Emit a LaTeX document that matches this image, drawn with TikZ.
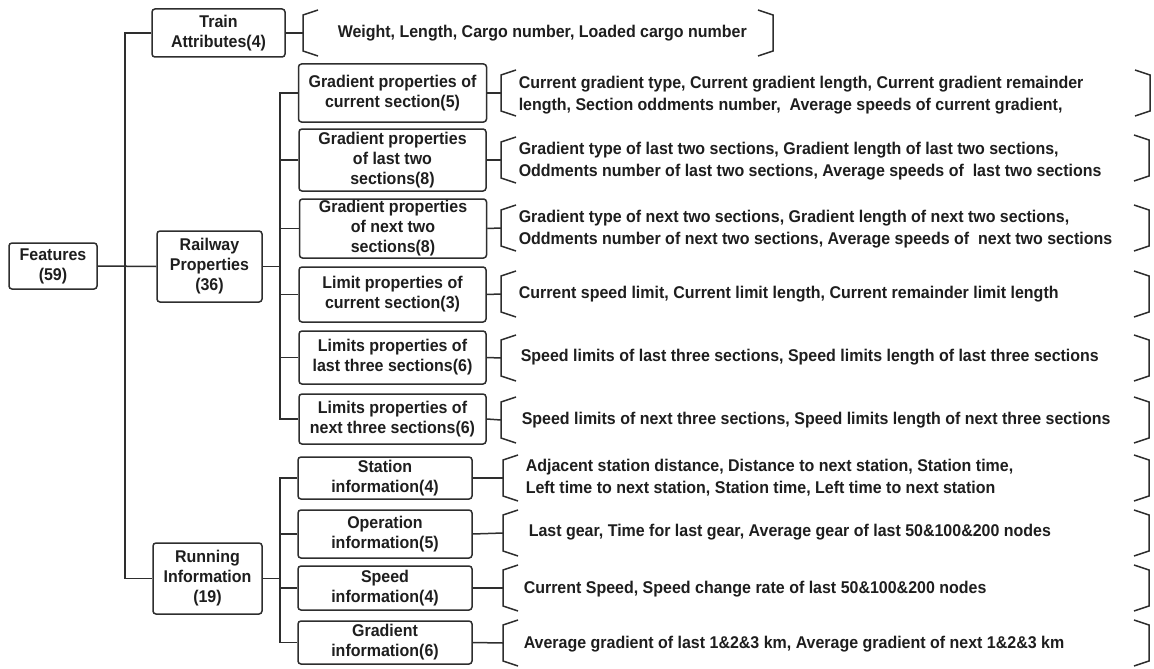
\documentclass[tikz,border=0pt]{standalone}
\usepackage{fontspec}
\setmainfont{Liberation Sans}
\newfontfamily\narrowsans[FakeStretch=0.94]{Liberation Sans}
\definecolor{ink}{HTML}{2E2E2E}
\definecolor{txt}{HTML}{1E1E1E}
\begin{document}
\begin{tikzpicture}[x=1pt,y=-1pt,
  line width=1.5pt, draw=ink,
  box/.style={draw=ink, rounded corners=3pt, inner sep=0pt, align=center,
    text=txt, font=\narrowsans\fontsize{17}{20}\selectfont\bfseries},
  desc/.style={anchor=west, inner sep=0pt, align=left, text=txt,
    font=\narrowsans\fontsize{17}{22}\selectfont\bfseries},
  lbr/.pic={\draw[ink, line width=1.5pt] (15,-23) -- (0,-18) -- (0,18) -- (15,23);},
  rbr/.pic={\draw[ink, line width=1.5pt] (-15,-23) -- (0,-18) -- (0,18) -- (-15,23);}
]
\useasboundingbox[fill=white] (0,0) rectangle (1154,669);

% level 0/1 boxes
\node[box, minimum width=88pt, minimum height=46pt] (feat) at (53,266) {Features\\(59)};
\node[box, minimum width=133pt, minimum height=48pt] (train) at (218.5,33) {Train\\Attributes(4)};
\node[box, minimum width=105pt, minimum height=71pt] (rail) at (209.5,266.5) {Railway\\Properties\\(36)};
\node[box, minimum width=109pt, minimum height=71pt] (run) at (207.5,578.5) {Running\\Information\\(19)};

% railway children
\node[box, minimum width=188pt, minimum height=58pt] (g1) at (392.5,93) {Gradient properties of\\current section(5)};
\node[box, minimum width=187pt, minimum height=62pt] (g2) at (392.5,160) {Gradient properties\\of last two\\sections(8)};
\node[box, minimum width=187pt, minimum height=59pt] (g3) at (393,228.5) {Gradient properties\\of next two\\sections(8)};
\node[box, minimum width=187pt, minimum height=55pt] (l1) at (392.5,294.5) {Limit properties of\\current section(3)};
\node[box, minimum width=187pt, minimum height=53pt] (l2) at (392.5,357.5) {Limits properties of\\last three sections(6)};
\node[box, minimum width=187pt, minimum height=50pt] (l3) at (392.5,419) {Limits properties of\\next three sections(6)};

% running children
\node[box, minimum width=174pt, minimum height=42pt] (s1) at (385,478) {Station\\information(4)};
\node[box, minimum width=174pt, minimum height=48pt] (s2) at (385,534) {Operation\\information(5)};
\node[box, minimum width=174pt, minimum height=44pt] (s3) at (385,588) {Speed\\information(4)};
\node[box, minimum width=174pt, minimum height=43pt] (s4) at (385,642.5) {Gradient\\information(6)};

% trunk connectors
\coordinate (tx) at (125,0);
\coordinate (bx) at (280,0);
\draw (feat.east) -- (rail.west);
\draw (train.west) -- (train.west -| tx) -- (run.west -| tx) -- (run.west);
\draw (rail.east) -- (rail.east -| bx);
\draw (g1.west) -- (g1.west -| bx) -- (l3.west -| bx) -- (l3.west);
\foreach \n in {g2,g3,l1,l2} \draw (\n.west) -- (\n.west -| bx);
\draw (run.east) -- (run.east -| bx);
\draw (s1.west) -- (s1.west -| bx) -- (s4.west -| bx) -- (s4.west);
\foreach \n in {s2,s3} \draw (\n.west) -- (\n.west -| bx);

% brackets
\coordinate (bt) at (303,33);   \coordinate (rt) at (773,33);
\coordinate (b1) at (501,93);   \coordinate (r1) at (1150,93);
\coordinate (b2) at (501,160);  \coordinate (r2) at (1149,158);
\coordinate (b3) at (501,228);  \coordinate (r3) at (1149,228);
\coordinate (b4) at (501,294);  \coordinate (r4) at (1149,294);
\coordinate (b5) at (501,358);  \coordinate (r5) at (1149,358);
\coordinate (b6) at (501,420);  \coordinate (r6) at (1149,420);
\coordinate (b7) at (503,478);  \coordinate (r7) at (1149,478);
\coordinate (b8) at (503,533);  \coordinate (r8) at (1149,533);
\coordinate (b9) at (503,588);  \coordinate (r9) at (1149,588);
\coordinate (b10) at (503,643); \coordinate (r10) at (1149,643);
\pic at (bt) {lbr}; \pic at (rt) {rbr};
\foreach \i in {1,...,10} {\pic at (b\i) {lbr}; \pic at (r\i) {rbr};}
\draw (train.east) -- (bt);
\draw (g1.east) -- (b1);
\draw (g2.east) -- (b2);
\draw (g3.east) -- (b3);
\draw (l1.east) -- (b4);
\draw (l2.east) -- (b5);
\draw (l3.east) -- (b6);
\draw (s1.east) -- (b7);
\draw (s2.east) -- (b8);
\draw (s3.east) -- (b9);
\draw (s4.east) -- (b10);

% descriptions
\node[desc] (dt) at (337,33) {Weight, Length, Cargo number, Loaded cargo number};
\node[desc] (d1) at (518,95) {Current gradient type, Current gradient length, Current gradient remainder\\length, Section oddments number, \ Average speeds of current gradient,};
\node[desc] (d2) at (518,161) {Gradient type of last two sections, Gradient length of last two sections,\\Oddments number of last two sections, Average speeds of \ last two sections};
\node[desc] (d3) at (518,229) {Gradient type of next two sections, Gradient length of next two sections,\\Oddments number of next two sections, Average speeds of \ next two sections};
\node[desc] (d4) at (518,294) {Current speed limit, Current limit length, Current remainder limit length};
\node[desc] (d5) at (520,357) {Speed limits of last three sections, Speed limits length of last three sections};
\node[desc] (d6) at (521,420) {Speed limits of next three sections, Speed limits length of next three sections};
\node[desc] (d7) at (525,478) {Adjacent station distance, Distance to next station, Station time,\\Left time to next station, Station time, Left time to next station};
\node[desc] (d8) at (528,532) {Last gear, Time for last gear, Average gear of last 50\&100\&200 nodes};
\node[desc] (d9) at (523,589) {Current Speed, Speed change rate of last 50\&100\&200 nodes};
\node[desc] (d10) at (523,644) {Average gradient of last 1\&2\&3 km, Average gradient of next 1\&2\&3 km};
\end{tikzpicture}
\end{document}
